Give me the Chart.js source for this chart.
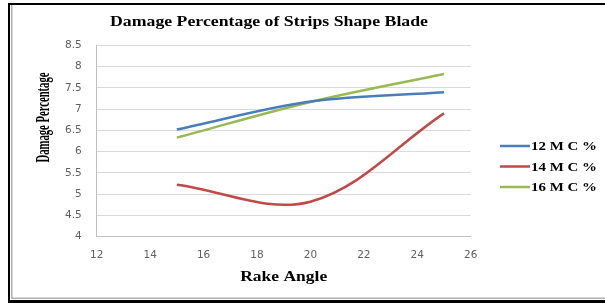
<!DOCTYPE html>
<html>
<head>
<meta charset="utf-8">
<script src="https://cdn.jsdelivr.net/npm/chart.js@4"></script>
<style>
  html, body { margin: 0; padding: 0; background: #fff; }
  #wrap { width: 605px; height: 303px; position: relative; }
</style>
</head>
<body>
<div id="wrap"><canvas id="myChart" width="605" height="303"></canvas></div>
<script>
// values
const rakeAngle = [15, 20, 25];
const mc12 = [6.52, 7.18, 7.40];
const mc14 = [5.22, 4.82, 6.90];
const mc16 = [6.33, 7.17, 7.83];
const seriesNames = ['12 M C %', '14 M C %', '16 M C %'];
const xTicks = [12, 14, 16, 18, 20, 22, 24, 26];
const yTicks = [4, 4.5, 5, 5.5, 6, 6.5, 7, 7.5, 8, 8.5];

const colors = ['#4a7ebb', '#be4b48', '#98b954'];
const serif = '"Liberation Serif", "Times New Roman", serif';
const tickFont = { family: '"DejaVu Sans", Verdana, sans-serif', size: 10.5 };

function pts(ys) {
    return rakeAngle.map((x, i) => ({ x: x, y: ys[i] }));
}

// text squeezed or stretched along its baseline to a given width
function fitText(c, text, x, y, width, align) {
    const w = c.measureText(text).width;
    const k = width / w;
    c.save();
    c.translate(x, y);
    c.scale(k, 1);
    c.textAlign = align;
    c.fillText(text, 0, 0);
    c.restore();
}

// frame, titles and legend drawn on the canvas
const decor = {
    id: 'decor',
    afterDraw(chart) {
        const c = chart.ctx;
        const a = chart.chartArea;
        c.save();
        // border of the picture
        c.fillStyle = '#000';
        c.fillRect(8, 3, 597, 2);
        c.fillRect(8, 3, 2, 300);
        c.fillRect(8, 300, 597, 3);
        c.fillStyle = '#b0b0b0';
        c.fillRect(11, 5, 1.5, 294);
        c.fillRect(11, 297.5, 594, 1.5);

        c.fillStyle = '#000';
        c.textBaseline = 'middle';
        c.font = 'bold 15px ' + serif;
        fitText(c, 'Damage Percentage of Strips Shape Blade', 269, 22, 318, 'center');

        c.font = 'bold 14px ' + serif;
        fitText(c, 'Rake Angle', (a.left + a.right) / 2, 277, 87, 'center');

        c.save();
        c.translate(44, 117.5);
        c.rotate(-Math.PI / 2);
        c.font = 'bold 18px ' + serif;
        fitText(c, 'Damage Percentage', 0, 0, 90, 'center');
        c.restore();

        // legend
        const rows = [146, 166.5, 187];
        c.font = 'bold 12px ' + serif;
        chart.data.datasets.forEach((ds, i) => {
            c.strokeStyle = ds.borderColor;
            c.lineWidth = 2.5;
            c.beginPath();
            c.moveTo(500, rows[i]);
            c.lineTo(530, rows[i]);
            c.stroke();
            c.fillStyle = '#000';
            fitText(c, ds.label, 531, rows[i] + 1, 66, 'left');
        });
        c.restore();
    }
};

const ctx = document.getElementById('myChart').getContext('2d');
new Chart(ctx, {
    type: 'line',
    data: {
        datasets: [
            { label: seriesNames[0], data: pts(mc12), borderColor: colors[0] },
            { label: seriesNames[1], data: pts(mc14), borderColor: colors[1] },
            { label: seriesNames[2], data: pts(mc16), borderColor: colors[2] }
        ]
    },
    options: {
        responsive: false,
        animation: false,
        events: [],
        layout: { padding: { top: 45.5, right: 134.3, left: 0, bottom: 0 } },
        elements: {
            line: { borderWidth: 2.5, tension: 0.35, fill: false },
            point: { radius: 0 }
        },
        plugins: {
            legend: { display: false },
            title: { display: false },
            tooltip: { enabled: false }
        },
        scales: {
            x: {
                type: 'linear',
                min: xTicks[0],
                max: xTicks[xTicks.length - 1],
                afterBuildTicks: s => { s.ticks = xTicks.map(v => ({ value: v })); },
                afterFit: s => { s.height = 66.5; },
                grid: { display: false, drawTicks: false },
                border: { display: true, color: '#c0c0c0', width: 1 },
                ticks: { padding: 12, color: '#606060', font: tickFont, callback: v => String(v) }
            },
            y: {
                min: yTicks[0],
                max: yTicks[yTicks.length - 1],
                afterBuildTicks: s => { s.ticks = yTicks.map(v => ({ value: v })); },
                afterFit: s => { s.width = 96.7; },
                grid: { color: '#d9d9d9', lineWidth: 1, drawTicks: false },
                border: { display: true, color: '#c0c0c0', width: 1 },
                ticks: { padding: 15, color: '#606060', font: tickFont, callback: v => String(v) }
            }
        }
    },
    plugins: [decor]
});
</script>
</body>
</html>
